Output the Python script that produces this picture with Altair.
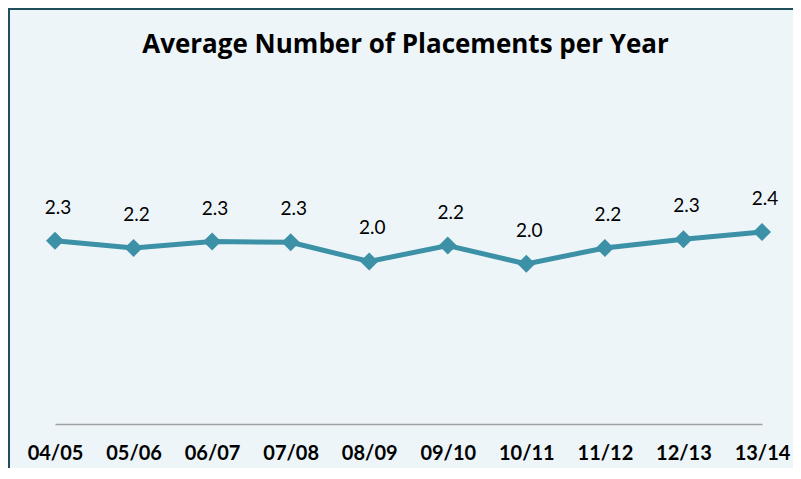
import altair as alt
import pandas as pd

# ---- data ----
years = ["04/05", "05/06", "06/07", "07/08", "08/09", "09/10", "10/11", "11/12", "12/13", "13/14"]
values = [2.30, 2.21, 2.29, 2.28, 2.04, 2.24, 2.01, 2.21, 2.32, 2.41]
title_text = "Average Number of Placements per Year"

df = pd.DataFrame({"year": years, "value": values})

# ---- layout ----
W, H = 707, 239
PL, PT = 47, 177
TOTAL_W, TOTAL_H = 785, 460
PR = TOTAL_W - PL - W
PB = TOTAL_H - PT - H

LINE_COLOR = "#3C91A7"
BORDER = "#1F4F5C"
BG = "#EDF5F8"

x = alt.X(
    "year:N",
    sort=years,
    scale=alt.Scale(type="point", padding=0),
    axis=alt.Axis(
        title=None, labelAngle=0, labelFont="Lato", labelFontWeight="bold",
        labelFontSize=20, labelColor="#000000", ticks=False, tickSize=0,
        labelPadding=19, domainColor="#A0A0A0", domainWidth=1.5, grid=False,
    ),
)
y = alt.Y("value:Q", scale=alt.Scale(domain=[0, 3], nice=False, zero=True), axis=None)

base = alt.Chart(df)
line = base.mark_line(color=LINE_COLOR, strokeWidth=5).encode(x=x, y=y)
pts = base.mark_point(shape="diamond", filled=True, size=324, color=LINE_COLOR, opacity=1).encode(x=x, y=y)
labels = base.mark_text(
    font="Lato", fontSize=19, dy=-27, dx=3, baseline="alphabetic", color="#000000"
).encode(x=x, y=y, text=alt.Text("value:Q", format=".1f"))

one = pd.DataFrame({"k": [0]})
left_border = alt.Chart(one).mark_rule(color=BORDER, strokeWidth=2).encode(
    x=alt.value(-PL + 1), y=alt.value(-PT), y2=alt.value(H + PB)
)
top_border = alt.Chart(one).mark_rule(color=BORDER, strokeWidth=2).encode(
    y=alt.value(-PT + 1), x=alt.value(-PL), x2=alt.value(W + PR)
)

chart = alt.layer(left_border, top_border, line, pts, labels).properties(
    width=W, height=H,
    title=alt.TitleParams(
        title_text, font="Open Sans", fontSize=26, fontWeight="bold", color="#000000",
        anchor="middle", baseline="alphabetic", offset=-72, dx=-3,
    ),
    background=BG,
    padding={"left": PL, "top": PT, "right": PR, "bottom": PB},
    autosize=alt.AutoSizeParams(type="none"),
).configure_view(stroke=None)

chart.save("out.html", embed_options={"renderer": "svg", "actions": False})
